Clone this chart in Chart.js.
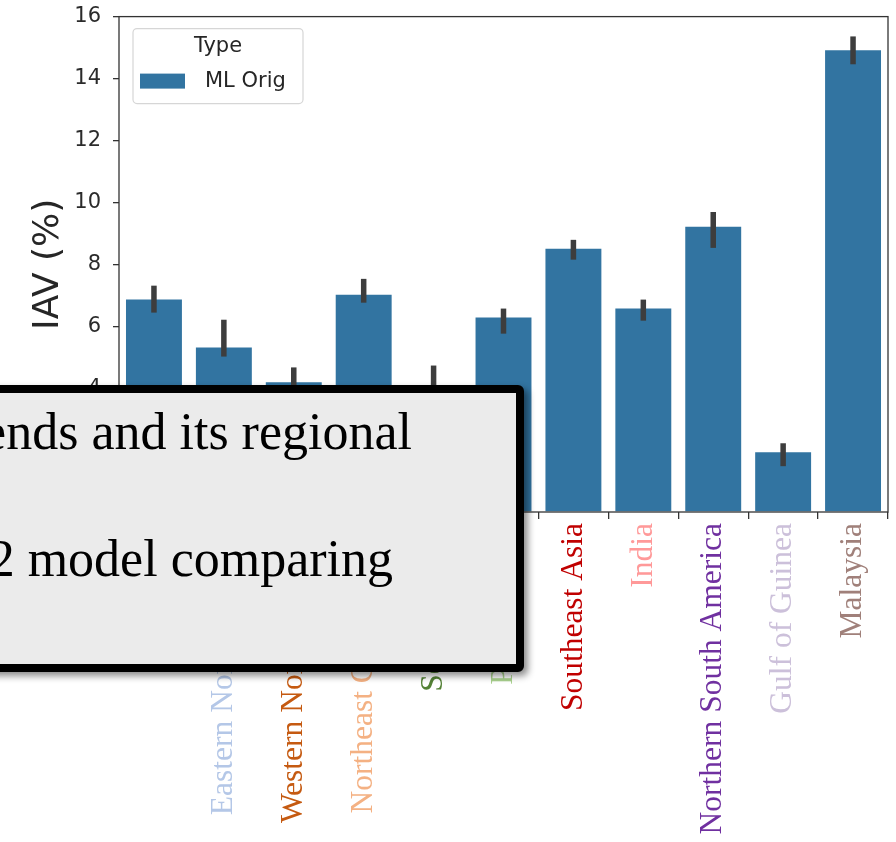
<!DOCTYPE html>
<html><head><meta charset="utf-8">
<script src="https://cdn.jsdelivr.net/npm/chart.js"></script>
<style>
html,body{margin:0;padding:0;background:#fff;}
#wrap{position:relative;width:896px;height:842px;overflow:hidden;background:#fff;}
#c{position:absolute;left:0;top:-8px;}
#note{position:absolute;left:-30px;top:385px;width:554px;height:287px;box-sizing:border-box;border:8px solid #000;border-radius:6px;background:#ebebeb;box-shadow:4px 4px 7px rgba(0,0,0,0.45);}
.ln{position:absolute;white-space:nowrap;font-family:"Liberation Serif","Times New Roman",serif;font-size:52px;line-height:52px;color:#000;}
</style></head><body>
<div id="wrap">
<canvas id="c" width="896" height="850"></canvas>
<div id="note"></div>
<div class="ln" style="right:484px;top:406px">IAV trends and its regional</div>
<div class="ln" style="right:503px;top:533px">the v2 model comparing</div>
</div>
<script>
const categories = ['Europe','Eastern North America','Western North America','Northeast China Plains','South Pacific','Parana Delta','Southeast Asia','India','Northern South America','Gulf of Guinea','Malaysia'];
const labelColors = ['#2e75b6','#b4c7e7','#c55a11','#f4b183','#538135','#a9d18e','#c00000','#ff9999','#7030a0','#ccc0da','#a0807a'];
const iavMean = [6.86, 5.31, 4.19, 7.02, 3.95, 6.28, 8.50, 6.57, 9.21, 1.93, 14.91];
const iavLow  = [6.44, 5.02, 3.85, 6.76, 3.30, 5.76, 8.15, 6.18, 8.53, 1.48, 14.46];
const iavHigh = [7.31, 6.21, 4.67, 7.53, 4.73, 6.57, 8.79, 6.86, 9.69, 2.22, 15.36];
const seriesName = 'ML Orig';
const legendTitle = 'Type';
const yTitle = 'IAV (%)';
const yMin = 0, yMax = 16, yStep = 2;

const barColor = '#3274a1';
const axisColor = '#333333';

const errorBars = {
  id: 'errorBars',
  afterDatasetsDraw(chart) {
    const {ctx, scales: {x, y}} = chart;
    ctx.save();
    ctx.strokeStyle = '#3d3d3d';
    ctx.lineWidth = 5.5;
    iavMean.forEach((v, i) => {
      const px = x.getPixelForValue(i);
      ctx.beginPath();
      ctx.moveTo(px, y.getPixelForValue(iavLow[i]));
      ctx.lineTo(px, y.getPixelForValue(iavHigh[i]));
      ctx.stroke();
    });
    const a = chart.chartArea;
    ctx.strokeStyle = axisColor;
    ctx.lineWidth = 1.3;
    ctx.strokeRect(a.left, a.top, a.right - a.left, a.bottom - a.top);
    ctx.restore();
  }
};

const boxLegend = {
  id: 'boxLegend',
  afterDraw(chart) {
    const {ctx, chartArea: a} = chart;
    const ds = chart.data.datasets[0];
    const L = a.left + 14, T = a.top + 12, W = 170, H = 75;
    ctx.save();
    ctx.beginPath();
    ctx.roundRect(L, T, W, H, 4);
    ctx.fillStyle = 'rgba(255,255,255,0.85)';
    ctx.fill();
    ctx.strokeStyle = '#d6d6d6';
    ctx.lineWidth = 1.2;
    ctx.stroke();
    ctx.fillStyle = '#262626';
    ctx.textBaseline = 'middle';
    ctx.textAlign = 'center';
    ctx.font = '21px "DejaVu Sans"';
    ctx.fillText(legendTitle, L + W / 2, T + 18);
    ctx.fillStyle = ds.backgroundColor;
    ctx.fillRect(L + 7, T + 45, 45, 15);
    ctx.fillStyle = '#262626';
    ctx.textAlign = 'left';
    ctx.font = '21px "DejaVu Sans"';
    ctx.fillText(ds.label, L + 72, T + 53);
    ctx.restore();
  }
};

new Chart(document.getElementById('c'), {
  type: 'bar',
  data: {
    labels: categories,
    datasets: [{
      label: seriesName,
      data: iavMean,
      backgroundColor: barColor,
      borderWidth: 0,
      categoryPercentage: 1.0,
      barPercentage: 0.8
    }]
  },
  options: {
    responsive: false,
    animation: false,
    layout: {padding: {left: 27, top: 8, right: 8, bottom: 0}},
    plugins: {legend: {display: false}, tooltip: {enabled: false}},
    scales: {
      x: {
        grid: {display: true, drawOnChartArea: false, drawTicks: true, tickLength: 7, color: axisColor, lineWidth: 1.3},
        border: {display: false},
        ticks: {
          autoSkip: false, minRotation: 90, maxRotation: 90, padding: 4,
          font: {family: '"Liberation Serif", "Times New Roman", serif', size: 31.5},
          color: (c) => labelColors[c.index]
        },
        afterFit(s) { s.height = 330; }
      },
      y: {
        min: yMin, max: yMax,
        grid: {display: true, drawOnChartArea: false, drawTicks: true, tickLength: 6, color: axisColor, lineWidth: 1.3},
        border: {display: false},
        ticks: {stepSize: yStep, padding: 12, color: '#2b2b2b', font: {family: '"DejaVu Sans"', size: 21}},
        title: {display: true, text: yTitle, color: '#262626', padding: 0, font: {family: '"DejaVu Sans"', size: 36}},
        afterFit(s) { s.width = 92; }
      }
    }
  },
  plugins: [errorBars, boxLegend]
});
</script>
</body></html>
